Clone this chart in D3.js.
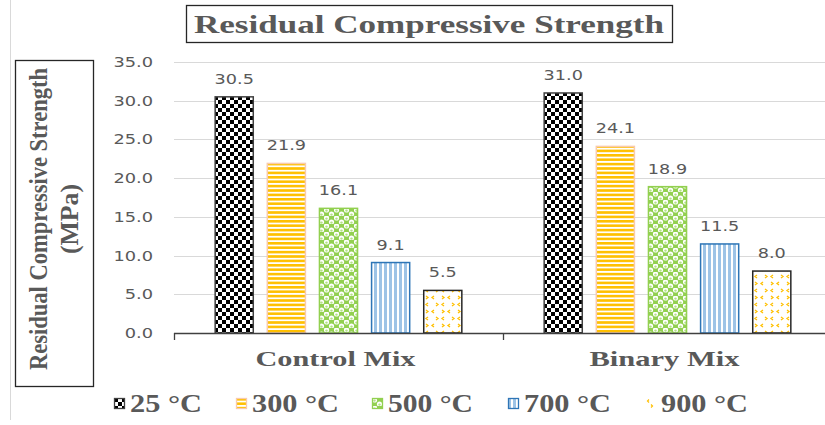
<!DOCTYPE html>
<html><head><meta charset="utf-8">
<script src="https://cdn.jsdelivr.net/npm/d3@7"></script>
<style>body{margin:0;background:#fff}svg{display:block}</style>
</head><body>
<script>
const categories = ["Control Mix", "Binary Mix"];
const series = ["25 °C", "300 °C", "500 °C", "700 °C", "900 °C"];
const controlValues = [30.5, 21.9, 16.1, 9.1, 5.5];
const binaryValues = [31.0, 24.1, 18.9, 11.5, 8.0];
const yTicks = [0, 5, 10, 15, 20, 25, 30, 35];
const values = [controlValues, binaryValues];

const W = 825, H = 425;
const SERIF = "'Liberation Serif', 'Times New Roman', serif";
const SANS = "'DejaVu Sans', Verdana, sans-serif";
const svg = d3.select("body").append("svg").attr("width", W).attr("height", H);
const defs = svg.append("defs");

function stretch(sel, k){
  sel.each(function(){ const L = this.getComputedTextLength(); d3.select(this).attr("textLength", L*k).attr("lengthAdjust","spacingAndGlyphs"); });
}

// patterns
const p1 = defs.append("pattern").attr("id","p0").attr("patternUnits","userSpaceOnUse").attr("width",8).attr("height",8);
p1.append("rect").attr("width",8).attr("height",8).attr("fill","#fff");
p1.append("rect").attr("width",4).attr("height",4).attr("fill","#000");
p1.append("rect").attr("x",4).attr("y",4).attr("width",4).attr("height",4).attr("fill","#000");

const p2 = defs.append("pattern").attr("id","p1").attr("patternUnits","userSpaceOnUse").attr("width",8).attr("height",4.4);
p2.append("rect").attr("width",8).attr("height",4.4).attr("fill","#fff");
p2.append("rect").attr("width",8).attr("height",2.6).attr("fill","#FFC000");

const p3 = defs.append("pattern").attr("id","p2").attr("patternUnits","userSpaceOnUse").attr("width",10).attr("height",8);
p3.append("rect").attr("width",10).attr("height",8).attr("fill","#92D050");
[[2.5,2],[7.5,6],[-2.5,6],[12.5,6]].forEach(([cx,cy])=>{
  p3.append("circle").attr("cx",cx).attr("cy",cy).attr("r",2.6).attr("fill","#fff");
  p3.append("circle").attr("cx",cx).attr("cy",cy+0.6).attr("r",1.2).attr("fill","#b5e08a");
});

const p4 = defs.append("pattern").attr("id","p3").attr("patternUnits","userSpaceOnUse").attr("width",5).attr("height",8);
p4.append("rect").attr("width",5).attr("height",8).attr("fill","#fff");
p4.append("rect").attr("width",3).attr("height",8).attr("fill","#9DC3E6");

const p5 = defs.append("pattern").attr("id","p4").attr("patternUnits","userSpaceOnUse").attr("width",16).attr("height",14);
p5.append("rect").attr("width",16).attr("height",14).attr("fill","#fff");
p5.append("path").attr("d","M4,2 L2,3.5 L4,5 M12,2 L14,3.5 L12,5 M6,9 L8,10.5 L6,12 M14,9 L12,10.5 L14,12")
  .attr("stroke","#FFC000").attr("stroke-width",1.3).attr("fill","none");

const p6 = defs.append("pattern").attr("id","p4s").attr("patternUnits","userSpaceOnUse").attr("width",11).attr("height",11);
p6.append("rect").attr("width",11).attr("height",11).attr("fill","#fff");
p6.append("path").attr("d","M4,1.5 L2.5,3 L4,4.5 M6,6.5 L7.5,8 L6,9.5")
  .attr("stroke","#FFC000").attr("stroke-width",1.2).attr("fill","none");

const fills = ["url(#p0)","url(#p1)","url(#p2)","url(#p3)","url(#p4)"];
const legFills = ["url(#p0)","url(#p1)","url(#p2)","url(#p3)","url(#p4s)"];
const strokes = ["#404040","#F8CBAD","#92D050","#2E75B6","#262626"];

// left rule
svg.append("line").attr("x1",10.5).attr("x2",10.5).attr("y1",0).attr("y2",420).attr("stroke","#d9d9d9");

const x0 = d3.scaleBand().domain(categories).range([174, 832]);
const x1 = d3.scaleBand().domain(series).range([0, x0.bandwidth()]).paddingInner(0.25).paddingOuter(0.78);
const y = d3.scaleLinear().domain([0,35]).range([333, 62]);

// grid
svg.append("g").selectAll("line").data(yTicks.filter(d=>d>0)).join("line")
  .attr("x1",174).attr("x2",832).attr("y1",d=>Math.round(y(d))+0.5).attr("y2",d=>Math.round(y(d))+0.5)
  .attr("stroke","#d9d9d9").attr("stroke-width",1.2);

// y tick labels
const yAxis = d3.axisLeft(y).tickValues(yTicks).tickFormat(d3.format(".1f")).tickSize(0).tickPadding(0);
const ya = svg.append("g").attr("transform","translate(153,0)").call(yAxis);
ya.select(".domain").remove();
ya.selectAll("text").attr("font-family",SANS).attr("font-size",14).attr("fill","#595959");
stretch(ya.selectAll("text"), 1.27);

// bars
const groups = svg.append("g").selectAll("g").data(categories).join("g")
  .attr("transform", d=>`translate(${x0(d)},0)`);
groups.each(function(cat, ci){
  const g = d3.select(this);
  const rows = series.map((s,si)=>({s, si, v: values[ci][si]}));
  g.selectAll("rect").data(rows).join("rect")
    .attr("x", d=>x1(d.s)+0.5).attr("width", x1.bandwidth()-1)
    .attr("y", d=>y(d.v)).attr("height", d=>y(0)-y(d.v))
    .attr("fill", d=>fills[d.si]).attr("stroke", d=>strokes[d.si]).attr("stroke-width",1.5);
  const t = g.selectAll("text").data(rows).join("text")
    .attr("x", d=>x1(d.s)+x1.bandwidth()/2).attr("y", d=>y(d.v)-13)
    .attr("text-anchor","middle").attr("font-family",SANS)
    .attr("font-size",14).attr("fill","#595959").text(d=>d3.format(".1f")(d.v));
  stretch(t, 1.26);
});

// x axis
const xa = svg.append("g").attr("transform","translate(0,333)");
xa.append("line").attr("x1",174).attr("x2",832).attr("y1",0.5).attr("y2",0.5).attr("stroke","#404040").attr("stroke-width",1.3);
xa.selectAll(".tk").data([174, 503, 832]).join("line").attr("class","tk")
  .attr("x1",d=>d+0.5).attr("x2",d=>d+0.5).attr("y1",0).attr("y2",7).attr("stroke","#404040").attr("stroke-width",1.3);
const catW = [160, 150];
xa.selectAll("text").data(categories).join("text")
  .attr("x", d=>x0(d)+x0.bandwidth()/2 - 3).attr("y", 33)
  .attr("text-anchor","middle").attr("font-family",SERIF)
  .attr("font-weight","bold").attr("font-size",22).attr("fill","#595959")
  .attr("textLength",(d,i)=>catW[i]).attr("lengthAdjust","spacingAndGlyphs").text(d=>d);

// title
svg.append("rect").attr("x",186.5).attr("y",5.5).attr("width",486).attr("height",37).attr("fill","none").attr("stroke","#262626").attr("stroke-width",1.3);
svg.append("text").attr("x",429).attr("y",33).attr("text-anchor","middle")
  .attr("font-family",SERIF).attr("font-weight","bold")
  .attr("font-size",25).attr("fill","#595959").attr("textLength",470).attr("lengthAdjust","spacingAndGlyphs")
  .text("Residual Compressive Strength");

// y label
svg.append("rect").attr("x",15.5).attr("y",60.5).attr("width",78).attr("height",326).attr("fill","none").attr("stroke","#262626").attr("stroke-width",1.3);
const yl = svg.append("g").attr("transform","translate(54,219) rotate(-90)");
yl.append("text").attr("x",0).attr("y",-7).attr("text-anchor","middle")
  .attr("font-family",SERIF).attr("font-weight","bold")
  .attr("font-size",26).attr("fill","#595959").attr("textLength",302).attr("lengthAdjust","spacingAndGlyphs")
  .text("Residual Compressive Strength");
yl.append("text").attr("x",0).attr("y",24).attr("text-anchor","middle")
  .attr("font-family",SERIF).attr("font-weight","bold")
  .attr("font-size",26).attr("fill","#595959").attr("textLength",70).attr("lengthAdjust","spacingAndGlyphs")
  .text("(MPa)");

// legend
const legX = [114, 236, 372, 508, 645];
const legW = [72, 87, 85, 87, 87];
const leg = svg.append("g").selectAll("g").data(series).join("g")
  .attr("transform",(d,i)=>`translate(${legX[i]},398)`);
leg.append("rect").attr("x",0.5).attr("y",0.5).attr("width",10).attr("height",10)
  .attr("fill",(d,i)=>legFills[i]).attr("stroke",(d,i)=>i===4?"none":strokes[i]).attr("stroke-width",1.3);
leg.append("text").attr("x",16).attr("y",14)
  .attr("font-family",SERIF).attr("font-weight","bold")
  .attr("font-size",25).attr("fill","#595959")
  .attr("textLength",(d,i)=>legW[i]).attr("lengthAdjust","spacingAndGlyphs").text(d=>d);
</script>
</body></html>
